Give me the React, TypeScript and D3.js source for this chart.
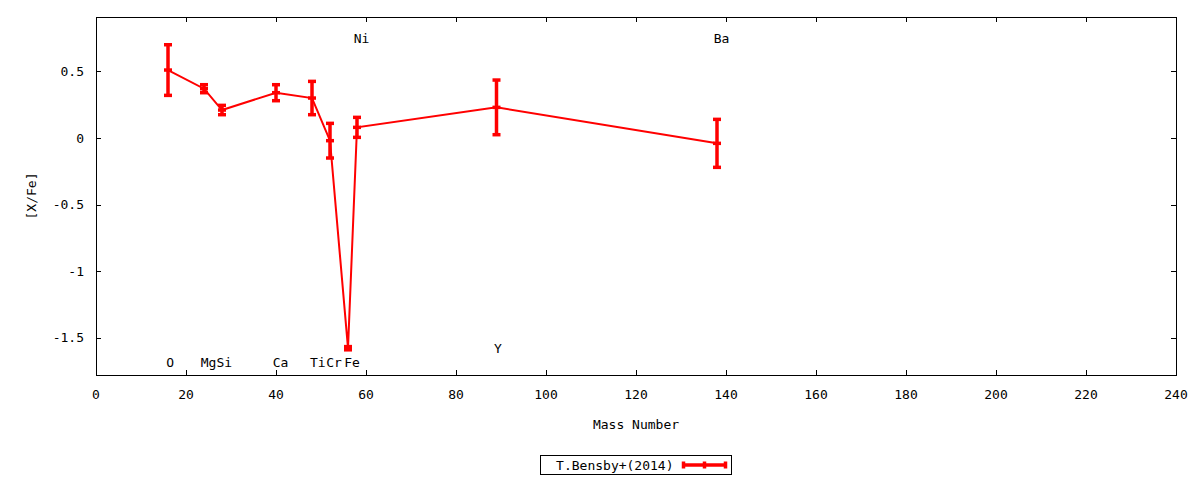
import React from 'react';
import * as d3 from 'd3';

// element data (mass number, [X/Fe], error)
const elements = ['O', 'Mg', 'Si', 'Ca', 'Ti', 'Cr', 'Fe', 'Ni', 'Y', 'Ba'];
const massNumbers = [16, 24, 28, 40, 48, 52, 56, 58, 89, 138];
const xfeValues = [0.51, 0.37, 0.21, 0.34, 0.30, -0.02, -1.577, 0.08, 0.23, -0.04];
const xfeErrors = [0.19, 0.03, 0.035, 0.06, 0.125, 0.13, 0.012, 0.075, 0.205, 0.18];

// label anchor positions (data units)
const labelX = [16.5, 25, 28.5, 41, 49.3, 52.9, 56.9, 59, 89.3, 139];
const labelY = [-1.687, -1.687, -1.687, -1.687, -1.687, -1.687, -1.687, 0.75, -1.58, 0.75];

const xTicks = [0, 20, 40, 60, 80, 100, 120, 140, 160, 180, 200, 220, 240];
const yTicks = [-1.5, -1, -0.5, 0, 0.5];
const legendLabel = 'T.Bensby+(2014)';

const FONT = '"DejaVu Sans Mono", monospace';
const RED = '#ff0000';

export default function App() {
    const width = 1200;
    const height = 480;
    const margin = { top: 17, right: 24, bottom: 105, left: 96 };
    const innerW = width - margin.left - margin.right;
    const innerH = height - margin.top - margin.bottom;

    const x = d3.scaleLinear().domain([0, 240]).range([0, innerW]);
    const y = d3.scaleLinear().domain([-1.778, 0.908]).range([innerH, 0]);

    const pts = massNumbers.map((m, i) => ({ m, v: xfeValues[i], e: xfeErrors[i] }));
    const line = d3.line<{ m: number; v: number }>()
        .x(d => x(d.m))
        .y(d => y(d.v));

    const fmt = (v: number) => (v === 0 ? '0' : String(v));
    const cap = 4;

    return (
        <div style={{ position: 'absolute', left: 0, top: 0 }}>
            <svg width={width} height={height} style={{ display: 'block', background: '#fff' }}
                fontFamily={FONT} fontSize={13}>
                <g transform={`translate(${margin.left},${margin.top})`}>
                    {/* ticks */}
                    {xTicks.map(t => (
                        <g key={'x' + t}>
                            <line x1={x(t) + 0.5} x2={x(t) + 0.5} y1={innerH} y2={innerH - 5} stroke="#000" />
                            <line x1={x(t) + 0.5} x2={x(t) + 0.5} y1={0} y2={5} stroke="#000" />
                            <text x={x(t)} y={innerH + 24} textAnchor="middle">{t}</text>
                        </g>
                    ))}
                    {yTicks.map(t => (
                        <g key={'y' + t}>
                            <line x1={0} x2={5} y1={Math.round(y(t)) + 0.5} y2={Math.round(y(t)) + 0.5} stroke="#000" />
                            <line x1={innerW - 5} x2={innerW} y1={Math.round(y(t)) + 0.5} y2={Math.round(y(t)) + 0.5} stroke="#000" />
                            <text x={-12} y={y(t)} dy="0.35em" textAnchor="end">{fmt(t)}</text>
                        </g>
                    ))}
                    <rect x={0.5} y={0.5} width={innerW} height={innerH} fill="none" stroke="#000" />

                    {/* element labels */}
                    {elements.map((el, i) => (
                        <text key={'l' + el} x={x(labelX[i])} y={y(labelY[i])} dy="0.35em" textAnchor="middle">{el}</text>
                    ))}

                    {/* data line */}
                    <path d={line(pts) || ''} fill="none" stroke={RED} strokeWidth={2} />

                    {/* error bars */}
                    {pts.map((p, i) => (
                        <g key={'e' + i} stroke={RED} strokeWidth={3.5}>
                            <line x1={x(p.m)} x2={x(p.m)} y1={y(p.v + p.e)} y2={y(p.v - p.e)} />
                            <line x1={x(p.m) - cap} x2={x(p.m) + cap} y1={y(p.v + p.e)} y2={y(p.v + p.e)} />
                            <line x1={x(p.m) - cap} x2={x(p.m) + cap} y1={y(p.v - p.e)} y2={y(p.v - p.e)} />
                            <line x1={x(p.m) - cap} x2={x(p.m) + cap} y1={y(p.v)} y2={y(p.v)} />
                        </g>
                    ))}

                    {/* axis titles */}
                    <text x={innerW / 2} y={innerH + 54} textAnchor="middle">Mass Number</text>
                    <text transform={`translate(${-65},${innerH / 2}) rotate(-90)`} dy="0.35em" textAnchor="middle">[X/Fe]</text>
                </g>

                {/* legend */}
                <g transform="translate(540.5,455.5)">
                    <rect x={0} y={0} width={191} height={19} fill="#fff" stroke="#000" />
                    <text x={133} y={9.5} dy="0.35em" textAnchor="end">{legendLabel}</text>
                    <g stroke={RED} strokeWidth={3.5}>
                        <line x1={143} x2={185} y1={9.5} y2={9.5} />
                        <line x1={143} x2={143} y1={6} y2={13} />
                        <line x1={185} x2={185} y1={6} y2={13} />
                        <line x1={164} x2={164} y1={6} y2={13} />
                    </g>
                </g>
            </svg>
        </div>
    );
}
